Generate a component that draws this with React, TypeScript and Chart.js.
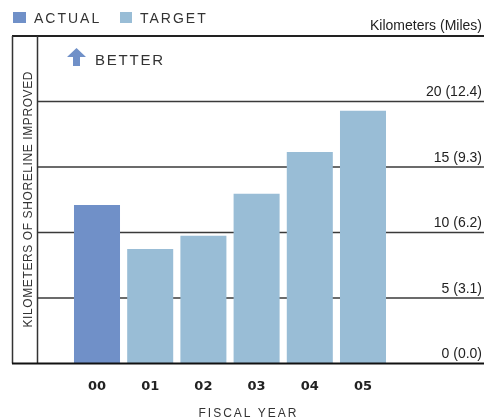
import React, { useEffect, useRef } from 'react';
import { Chart, registerables } from 'chart.js';

Chart.register(...registerables);

const years = ['00', '01', '02', '03', '04', '05'];
const actualValues = [12.1, null, null, null, null, null];
const targetValues = [null, 8.75, 9.75, 12.95, 16.15, 19.3];
const yTickValues = [0, 5, 10, 15, 20];
const yTickLabels = ['0 (0.0)', '5 (3.1)', '10 (6.2)', '15 (9.3)', '20 (12.4)'];
const yMax = 25;
const legendLabels = ['ACTUAL', 'TARGET'];
const unitsLabel = 'Kilometers (Miles)';
const yTitle = 'KILOMETERS OF SHORELINE IMPROVED';
const xTitle = 'FISCAL YEAR';
const betterLabel = 'BETTER';

const ACTUAL_COLOR = '#7090c8';
const TARGET_COLOR = '#99bdd6';
const FONT = '"Liberation Sans", Arial, sans-serif';

function spacedText(ctx: CanvasRenderingContext2D, text: string, x: number, y: number, spacing: number, align: 'left' | 'center' | 'right') {
  ctx.save();
  (ctx as any).letterSpacing = spacing + 'px';
  ctx.textAlign = 'left';
  const w = ctx.measureText(text).width - spacing;
  let sx = x;
  if (align === 'center') sx = x - w / 2;
  else if (align === 'right') sx = x - w;
  ctx.fillText(text, sx, y);
  ctx.restore();
}

const framePlugin = {
  id: 'frame',
  beforeDatasetsDraw(chart: any) {
    const { ctx, scales } = chart;
    const y = scales.y;
    const W = chart.width;
    const top = y.getPixelForValue(yMax);
    const bottom = y.getPixelForValue(0);
    ctx.save();
    // horizontal grid lines
    ctx.strokeStyle = '#3a3a3a';
    ctx.lineWidth = 1.5;
    yTickValues.forEach((v) => {
      if (v === 0) return;
      const py = y.getPixelForValue(v);
      ctx.beginPath();
      ctx.moveTo(37, py);
      ctx.lineTo(W, py);
      ctx.stroke();
    });
    // top frame line
    ctx.strokeStyle = '#222';
    ctx.lineWidth = 2;
    ctx.beginPath();
    ctx.moveTo(12, top);
    ctx.lineTo(W, top);
    ctx.stroke();
    // vertical frame lines
    ctx.lineWidth = 1.5;
    ctx.strokeStyle = '#333';
    [12.5, 37.5].forEach((x) => {
      ctx.beginPath();
      ctx.moveTo(x, top);
      ctx.lineTo(x, bottom);
      ctx.stroke();
    });
    ctx.restore();
  },
  afterDatasetsDraw(chart: any) {
    const { ctx, scales } = chart;
    const y = scales.y;
    const W = chart.width;
    const bottom = y.getPixelForValue(0);
    ctx.save();
    ctx.strokeStyle = '#111';
    ctx.lineWidth = 2;
    ctx.beginPath();
    ctx.moveTo(12, bottom);
    ctx.lineTo(W, bottom);
    ctx.stroke();

    // legend
    ctx.fillStyle = ACTUAL_COLOR;
    ctx.fillRect(13, 12, 13, 11);
    ctx.fillStyle = TARGET_COLOR;
    ctx.fillRect(120, 12, 12, 11);
    ctx.fillStyle = '#333';
    ctx.font = '14px ' + FONT;
    ctx.textBaseline = 'alphabetic';
    spacedText(ctx, legendLabels[0], 34, 23, 2, 'left');
    spacedText(ctx, legendLabels[1], 140, 23, 2, 'left');

    // units label
    ctx.fillStyle = '#222';
    ctx.font = '14px ' + FONT;
    ctx.textAlign = 'right';
    ctx.fillText(unitsLabel, 482, 29.5);

    // better arrow
    ctx.fillStyle = ACTUAL_COLOR;
    ctx.beginPath();
    ctx.moveTo(67, 57);
    ctx.lineTo(76.5, 48);
    ctx.lineTo(86, 57);
    ctx.lineTo(80, 57);
    ctx.lineTo(80, 66);
    ctx.lineTo(73, 66);
    ctx.lineTo(73, 57);
    ctx.closePath();
    ctx.fill();
    ctx.fillStyle = '#333';
    ctx.font = '15px ' + FONT;
    spacedText(ctx, betterLabel, 95, 64.5, 1.8, 'left');

    // x title
    ctx.fillStyle = '#333';
    ctx.font = '12px ' + FONT;
    spacedText(ctx, xTitle, 247.5, 417, 2, 'center');

    // y title rotated
    ctx.save();
    ctx.translate(32, 199.5);
    ctx.rotate(-Math.PI / 2);
    ctx.fillStyle = '#333';
    ctx.font = '12px ' + FONT;
    spacedText(ctx, yTitle, 0, 0, 0.6, 'center');
    ctx.restore();

    ctx.restore();
  },
};

export default function App() {
  const ref = useRef<HTMLCanvasElement>(null);
  useEffect(() => {
    if (!ref.current) return;
    const chart = new Chart(ref.current, {
      type: 'bar',
      data: {
        labels: years,
        datasets: [
          { label: legendLabels[0], data: actualValues as any, backgroundColor: ACTUAL_COLOR, borderWidth: 0 },
          { label: legendLabels[1], data: targetValues as any, backgroundColor: TARGET_COLOR, borderWidth: 0 },
        ],
      },
      options: {
        responsive: false,
        animation: false,
        layout: { padding: { left: 70.4, right: 2, top: 36, bottom: 0 } },
        datasets: { bar: { categoryPercentage: 1, barPercentage: 0.865 } } as any,
        plugins: { legend: { display: false }, tooltip: { enabled: false }, title: { display: false } },
        scales: {
          x: {
            stacked: true,
            grid: { display: false, drawTicks: false },
            border: { display: false },
            ticks: {
              color: '#222',
              font: { family: '"DejaVu Sans", sans-serif', size: 13, weight: 'bold' },
              padding: 15,
              maxRotation: 0,
              autoSkip: false,
            },
            afterFit: (scale: any) => { scale.height = 55.5; },
          },
          y: {
            position: 'right',
            min: 0,
            max: yMax,
            grid: { display: false, drawTicks: false },
            border: { display: false },
            ticks: {
              stepSize: 5,
              crossAlign: 'far',
              labelOffset: -9,
              color: '#222',
              font: { family: FONT, size: 14 },
              callback: (v: any) => {
                const i = yTickValues.indexOf(Number(v));
                return i >= 0 ? yTickLabels[i] : '';
              },
            },
            afterFit: (scale: any) => { scale.width = 92.4; },
          },
        },
      },
      plugins: [framePlugin],
    });
    return () => chart.destroy();
  }, []);
  return (
    <div style={{ position: 'fixed', left: 0, top: 0, width: 484, height: 419, background: '#fff' }}>
      <canvas ref={ref} width={484} height={419} style={{ width: 484, height: 419, display: 'block' }} />
    </div>
  );
}
